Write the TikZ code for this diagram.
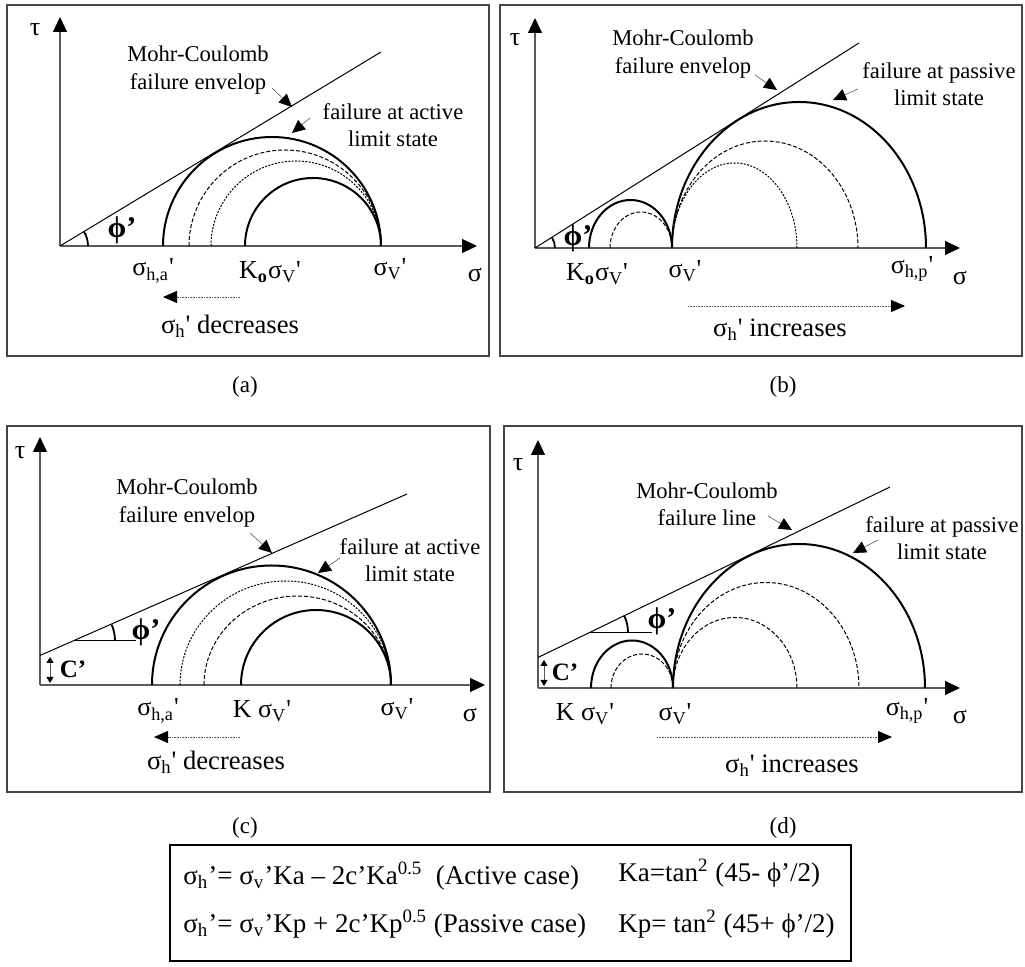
\documentclass[tikz,border=0pt]{standalone}
\usepackage{fontspec}
\setmainfont{Liberation Serif}
\usetikzlibrary{arrows.meta}
\definecolor{AxisGray}{HTML}{5A5A5A}
\definecolor{FrameGray}{HTML}{454545}
\newcommand{\sq}{\textquotesingle}
\newcommand{\sig}[1]{σ\textsubscript{#1}}

\begin{document}
\begin{tikzpicture}[x=0.5pt,y=-0.5pt, every node/.style={inner sep=0pt},
  annot/.style={font=\fontsize{11.3}{13.6}\selectfont, align=center},
  axlabel/.style={font=\fontsize{13}{15}\selectfont},
  trendtext/.style={font=\fontsize{13.3}{16}\selectfont},
  philabel/.style={font=\bfseries\fontsize{15}{17}\selectfont},
  clabel/.style={font=\bfseries\fontsize{12.5}{15}\selectfont},
  caption/.style={font=\fontsize{11.5}{14}\selectfont},
  relation/.style={font=\fontsize{13.5}{16}\selectfont, anchor=west},
  frame/.style={draw=FrameGray, line width=0.75pt},
  axis/.style={draw=AxisGray, line width=0.6pt, -{Triangle[length=7.5pt,width=7pt,color=black]}},
  envelope/.style={line width=0.5pt},
  failcircle/.style={line width=1pt},
  dashcircle/.style={line width=0.5pt, dash pattern=on 2pt off 1pt},
  dotcircle/.style={line width=0.5pt, dash pattern=on 1pt off 0.7pt},
  anglemark/.style={line width=0.9pt},
  leader/.style={draw=AxisGray, line width=0.3pt, -{Triangle[length=6.5pt,width=6pt,color=black]}},
  trend/.style={draw=AxisGray, line width=0.4pt, dash pattern=on 0.4pt off 0.4pt, -{Triangle[length=7pt,width=6pt,color=black]}},
  cmark/.style={draw=AxisGray, line width=0.5pt, {Triangle[length=3pt,width=3.5pt,color=black]}-{Triangle[length=3pt,width=3.5pt,color=black]}}]
  \useasboundingbox (0,0) rectangle (1025,967);

  % (a) active, c' = 0
  \draw[frame] (7,5) rectangle (489,356);
  \coordinate (ao) at (60,246);
  \coordinate (aytop) at (60,17);
  \coordinate (axend) at (477,246);
  \coordinate (aenv) at (381,52);
  \draw[axis] (ao) -- (aytop);
  \draw[axis] (ao) -- (axend);
  \draw[envelope] (ao) -- (aenv);
  \draw[failcircle] (163,246) arc[start angle=180, end angle=360, radius=109];
  \draw[dashcircle] (189,246) arc[start angle=180, end angle=360, radius=96];
  \draw[dotcircle] (211,246) arc[start angle=180, end angle=360, radius=85];
  \draw[failcircle] (245,246) arc[start angle=180, end angle=360, radius=68];
  \draw[anglemark] (88,246) arc[start angle=0, end angle=-31, radius=28];
  \node[axlabel] (atau) at (35,30) {τ};
  \node[philabel] (aphi) at (122,230) {ϕ’};
  \node[axlabel] (asha) at (153,271) {\sig{h,a}\sq};
  \node[axlabel] (ako) at (270,272) {K\textsubscript{\textbf{o}}\sig{V}\sq};
  \node[axlabel] (asv) at (390,269) {\sig{V}\sq};
  \node[axlabel] (asig) at (475,275) {σ};
  \coordinate (adecs) at (240,297);
  \coordinate (adece) at (163,297);
  \draw[trend] (adecs) -- (adece);
  \node[trendtext] (adec) at (230,326) {\sig{h}\sq{} decreases};
  \node[annot] (amc) at (198,70) {Mohr-Coulomb\\failure envelop};
  \coordinate (amcs) at (272,88);
  \coordinate (amce) at (292,107);
  \draw[leader] (amcs) -- (amce);
  \node[annot] (afail) at (393,125) {failure at active\\limit state};
  \coordinate (afails) at (310,118);
  \coordinate (afaile) at (292,133);
  \draw[leader] (afails) -- (afaile);
  \node[caption] (acap) at (245,387) {(a)};

  % (b) passive, c' = 0
  \draw[frame] (500,5) rectangle (1022,356);
  \coordinate (bo) at (535,248);
  \coordinate (bytop) at (535,18);
  \coordinate (bxend) at (960,248);
  \coordinate (benv) at (859,43);
  \draw[axis] (bo) -- (bytop);
  \draw[axis] (bo) -- (bxend);
  \draw[envelope] (bo) -- (benv);
  \draw[failcircle] (589,248) arc[start angle=180, end angle=360, x radius=41.5, y radius=48];
  \draw[dashcircle] (610,248) arc[start angle=180, end angle=360, x radius=31, y radius=36];
  \draw[failcircle] (672,248) arc[start angle=180, end angle=360, x radius=127, y radius=146];
  \draw[dashcircle] (672,248) arc[start angle=180, end angle=360, x radius=93, y radius=107];
  \draw[dotcircle] (672,248) arc[start angle=180, end angle=360, x radius=62.5, y radius=85];
  \draw[anglemark] (555,248) arc[start angle=0, end angle=-32, radius=20];
  \node[axlabel] (btau) at (515,40) {τ};
  \node[philabel] (bphi) at (578,238) {ϕ’};
  \node[axlabel] (bko) at (597,274) {K\textsubscript{\textbf{o}}\sig{V}\sq};
  \node[axlabel] (bsv) at (685,271) {\sig{V}\sq};
  \node[axlabel] (bshp) at (912,269) {\sig{h,p}\sq};
  \node[axlabel] (bsig) at (960,278) {σ};
  \coordinate (bincs) at (688,306);
  \coordinate (bince) at (905,306);
  \draw[trend] (bincs) -- (bince);
  \node[trendtext] (binc) at (780,330) {\sig{h}\sq{} increases};
  \node[annot] (bmc) at (683,54) {Mohr-Coulomb\\failure envelop};
  \coordinate (bmcs) at (755,75);
  \coordinate (bmce) at (777,90);
  \draw[leader] (bmcs) -- (bmce);
  \node[annot] (bfail) at (939,84) {failure at passive\\limit state};
  \coordinate (bfails) at (858,89);
  \coordinate (bfaile) at (833,100);
  \draw[leader] (bfails) -- (bfaile);
  \node[caption] (bcap) at (783,387) {(b)};

  % (c) active, with c'
  \draw[frame] (7,426) rectangle (490,792);
  \coordinate (co) at (40,685);
  \coordinate (cytop) at (40,437);
  \coordinate (cxend) at (485,685);
  \coordinate (cc) at (40,655.5);
  \coordinate (cenv) at (407,494);
  \draw[axis] (co) -- (cytop);
  \draw[axis] (co) -- (cxend);
  \draw[envelope] (cc) -- (cenv);
  \draw[cmark] (50,657) -- (50,683);
  \draw[failcircle] (152,685) arc[start angle=180, end angle=360, radius=119.5];
  \draw[dotcircle] (180,685) arc[start angle=180, end angle=360, x radius=105.5, y radius=104];
  \draw[dashcircle] (204,685) arc[start angle=180, end angle=360, x radius=93.5, y radius=89];
  \draw[failcircle] (241,685) arc[start angle=180, end angle=360, radius=75];
  \draw[envelope] (73,641) -- (136,641);
  \draw[anglemark] (115,641) arc[start angle=0, end angle=-23, radius=42];
  \node[axlabel] (ctau) at (20,453) {τ};
  \node[philabel] (cphi) at (146,632) {ϕ’};
  \node[clabel] (cc1) at (73,669) {C’};
  \node[axlabel] (csha) at (158,711) {\sig{h,a}\sq};
  \node[axlabel] (cko) at (262,711) {K \sig{V}\sq};
  \node[axlabel] (csv) at (397,709) {\sig{V}\sq};
  \node[axlabel] (csig) at (470,715) {σ};
  \coordinate (cdecs) at (240,737);
  \coordinate (cdece) at (154,737);
  \draw[trend] (cdecs) -- (cdece);
  \node[trendtext] (cdec) at (216,762) {\sig{h}\sq{} decreases};
  \node[annot] (cmc) at (187,503) {Mohr-Coulomb\\failure envelop};
  \coordinate (cmcs) at (250,533);
  \coordinate (cmce) at (272,553);
  \draw[leader] (cmcs) -- (cmce);
  \node[annot] (cfail) at (410,560) {failure at active\\limit state};
  \coordinate (cfails) at (340,558);
  \coordinate (cfaile) at (318,573);
  \draw[leader] (cfails) -- (cfaile);
  \node[caption] (ccap) at (245,828) {(c)};

  % (d) passive, with c'
  \draw[frame] (504,426) rectangle (1022,792);
  \coordinate (do) at (538,688);
  \coordinate (dytop) at (538,440);
  \coordinate (dxend) at (960,688);
  \coordinate (dc) at (538,657.5);
  \coordinate (denv) at (890,487);
  \draw[axis] (do) -- (dytop);
  \draw[axis] (do) -- (dxend);
  \draw[envelope] (dc) -- (denv);
  \draw[cmark] (544,660) -- (544,686);
  \draw[failcircle] (591,688) arc[start angle=180, end angle=360, x radius=41, y radius=47.5];
  \draw[dashcircle] (611,688) arc[start angle=180, end angle=360, x radius=31, y radius=34];
  \draw[failcircle] (673,688) arc[start angle=180, end angle=360, x radius=126, y radius=144];
  \draw[dashcircle] (673,688) arc[start angle=180, end angle=360, x radius=93, y radius=105.5];
  \draw[dashcircle] (673,688) arc[start angle=180, end angle=360, x radius=62, y radius=70.5];
  \draw[envelope] (589,632.5) -- (652,632.5);
  \draw[anglemark] (628,632.5) arc[start angle=0, end angle=-26, radius=39];
  \node[axlabel] (dtau) at (518,465) {τ};
  \node[philabel] (dphi) at (662,621) {ϕ’};
  \node[clabel] (dc1) at (565,672) {C’};
  \node[axlabel] (dko) at (585,714) {K \sig{V}\sq};
  \node[axlabel] (dsv) at (675,714) {\sig{V}\sq};
  \node[axlabel] (dshp) at (907,711) {\sig{h,p}\sq};
  \node[axlabel] (dsig) at (960,717) {σ};
  \coordinate (dincs) at (657,737);
  \coordinate (dince) at (892,737);
  \draw[trend] (dincs) -- (dince);
  \node[trendtext] (dinc) at (792,766) {\sig{h}\sq{} increases};
  \node[annot] (dmc) at (707,504) {Mohr-Coulomb\\failure line};
  \coordinate (dmcs) at (768,516);
  \coordinate (dmce) at (792,530);
  \draw[leader] (dmcs) -- (dmce);
  \node[annot] (dfail) at (942,538) {failure at passive\\limit state};
  \coordinate (dfails) at (878,540);
  \coordinate (dfaile) at (853,553);
  \draw[leader] (dfails) -- (dfaile);
  \node[caption] (dcap) at (783,828) {(d)};

  % earth pressure relations
  \draw[line width=1.2pt] (170,845) rectangle (851,961);
  \node[relation] (active) at (183,876) {\sig{h}’= \sig{v}’Ka – 2c’Ka\textsuperscript{0.5}\ \ (Active case)};
  \node[relation] (kaeq) at (618,873) {Ka=tan\textsuperscript{2} (45- ϕ’/2)};
  \node[relation] (passive) at (183,924) {\sig{h}’= \sig{v}’Kp + 2c’Kp\textsuperscript{0.5} (Passive case)};
  \node[relation] (kpeq) at (618,924) {Kp= tan\textsuperscript{2} (45+ ϕ’/2)};
\end{tikzpicture}
\end{document}
